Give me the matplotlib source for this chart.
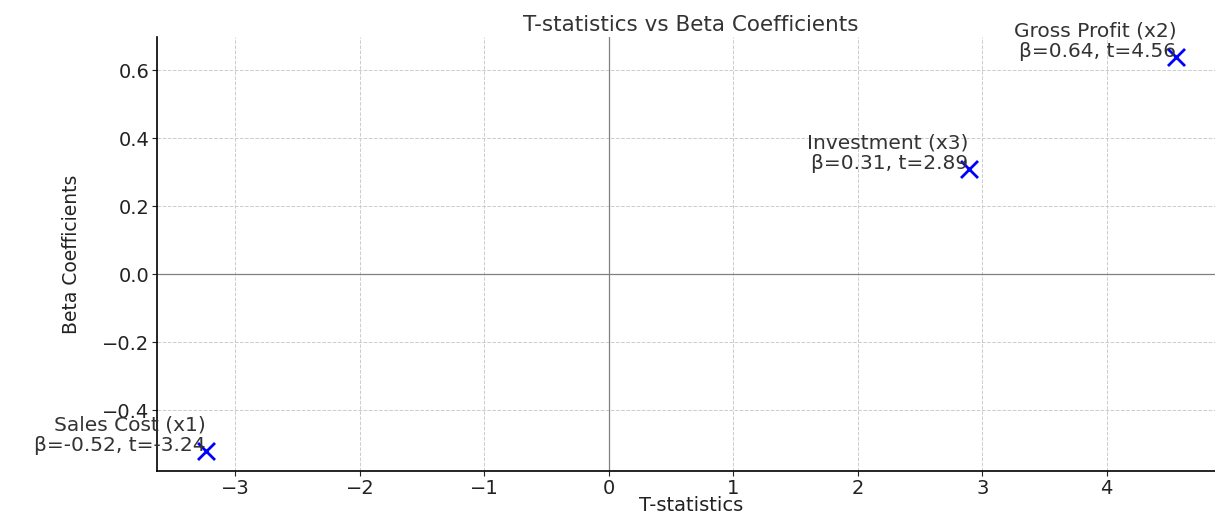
import matplotlib
matplotlib.use("Agg")
import matplotlib.pyplot as plt

# regression results
variables = ["Sales Cost (x1)", "Gross Profit (x2)", "Investment (x3)"]
t_stats = [-3.24, 4.56, 2.89]
betas = [-0.52, 0.64, 0.31]

fig = plt.figure(figsize=(12.15, 5.13), dpi=100)
ax = fig.add_axes([0.1292, 0.0819, 0.879, 0.846])

ax.scatter(t_stats, betas, marker='x', color='blue', s=150, linewidths=2, zorder=3)
for name, t, b in zip(variables, t_stats, betas):
    ax.text(t, b, f"{name}\nβ={b:.2f}, t={t:.2f}", ha='right', fontsize=14.5,
            color='#333333', linespacing=1.1)

ax.axhline(0, color='gray', linewidth=0.9)
ax.axvline(0, color='gray', linewidth=0.9)
ax.grid(True, linestyle='--', color='#cccccc', linewidth=0.7)
ax.set_axisbelow(True)

ax.spines['top'].set_visible(False)
ax.spines['right'].set_visible(False)
ax.spines['left'].set_linewidth(1.2)
ax.spines['bottom'].set_linewidth(1.2)
ax.tick_params(labelsize=14, colors='#222222', pad=2)

ax.set_title("T-statistics vs Beta Coefficients", fontsize=15.5, color='#333333', pad=4)
ax.set_xlabel("T-statistics", fontsize=14, color='#222222', labelpad=-1)
ax.set_ylabel("Beta Coefficients", fontsize=13.5, color='#222222', labelpad=15)

fig.savefig("out.png", dpi=100)
